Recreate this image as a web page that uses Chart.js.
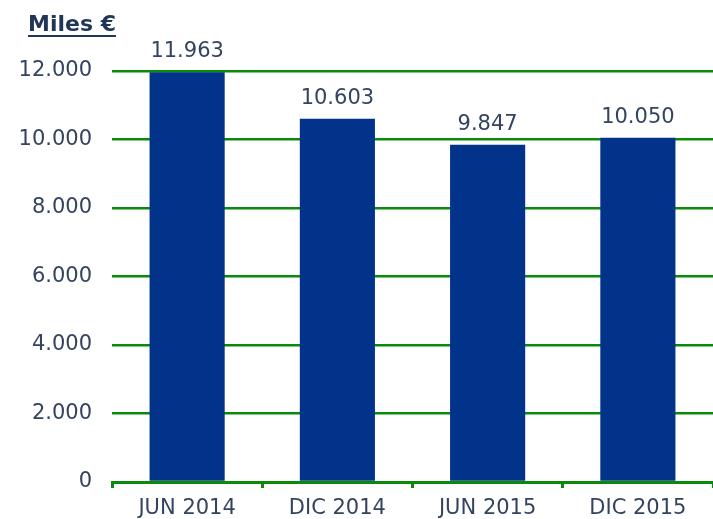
<!DOCTYPE html>
<html>
<head>
<meta charset="utf-8">
<script src="https://cdn.jsdelivr.net/npm/chart.js@4"></script>
<style>
  html, body { margin: 0; padding: 0; background: #fff; }
  #wrap { position: relative; width: 713px; height: 519px; }
  #title {
    position: absolute; left: 28px; top: 11px;
    font: bold 22px "DejaVu Sans", sans-serif;
    color: #1f3657;
    text-decoration: underline;
    text-decoration-thickness: 2px;
    text-underline-offset: 4px;
  }
</style>
</head>
<body>
<div id="wrap">
  <div id="title">Miles €</div>
  <canvas id="js-bar-chart" width="713" height="519"></canvas>
</div>
<script>
// chart values
const categories = ['JUN 2014', 'DIC 2014', 'JUN 2015', 'DIC 2015']
const importe = [11963, 10603, 9847, 10050]
const tickValues = [0, 2000, 4000, 6000, 8000, 10000, 12000]

const textColor = '#34445f'
const green = '#0a8a0a'

// 12000 -> "12.000"
function fmt(v) {
  return String(v).replace(/\B(?=(\d{3})+(?!\d))/g, '.')
}

// value labels above every bar
const valueLabels = {
  id: 'valueLabels',
  afterDatasetsDraw(chart) {
    const ctx = chart.ctx
    const meta = chart.getDatasetMeta(0)
    ctx.save()
    ctx.font = '21px "DejaVu Sans", sans-serif'
    ctx.fillStyle = textColor
    ctx.textAlign = 'center'
    ctx.textBaseline = 'bottom'
    meta.data.forEach((bar, i) => {
      ctx.fillText(fmt(importe[i]), bar.x, bar.y - 10)
    })
    ctx.restore()
  }
}

const barCtx = document.getElementById('js-bar-chart').getContext('2d')

const newBarChart = new Chart(barCtx, {
  type: 'bar',
  data: {
    labels: categories,
    datasets: [
      {
        data: importe,
        backgroundColor: '#01338a',
        borderWidth: 0,
        barPercentage: 0.5,
        categoryPercentage: 1.0,
      },
    ],
  },
  options: {
    responsive: false,
    animation: false,
    layout: { padding: { top: 71, left: 14, right: 0, bottom: 0 } },
    plugins: {
      legend: { display: false },
      tooltip: { enabled: false },
    },
    scales: {
      x: {
        afterFit(axis) { axis.height = 37 },
        grid: {
          drawOnChartArea: false,
          drawTicks: true,
          tickLength: 6,
          color: green,
          lineWidth: 3,
        },
        border: { display: true, color: green, width: 3 },
        ticks: {
          color: textColor,
          padding: 8,
          font: { family: 'DejaVu Sans', size: 21 },
        },
      },
      y: {
        min: 0,
        max: 12000,
        afterBuildTicks(axis) {
          axis.ticks = tickValues.map(v => ({ value: v }))
        },
        afterFit(axis) { axis.width = 98 },
        grid: {
          color: green,
          lineWidth: 2.5,
          drawTicks: false,
        },
        border: { display: false },
        ticks: {
          color: textColor,
          padding: 20,
          font: { family: 'DejaVu Sans', size: 21 },
          callback: v => fmt(v),
        },
      },
    },
  },
  plugins: [valueLabels],
})
</script>
</body>
</html>
